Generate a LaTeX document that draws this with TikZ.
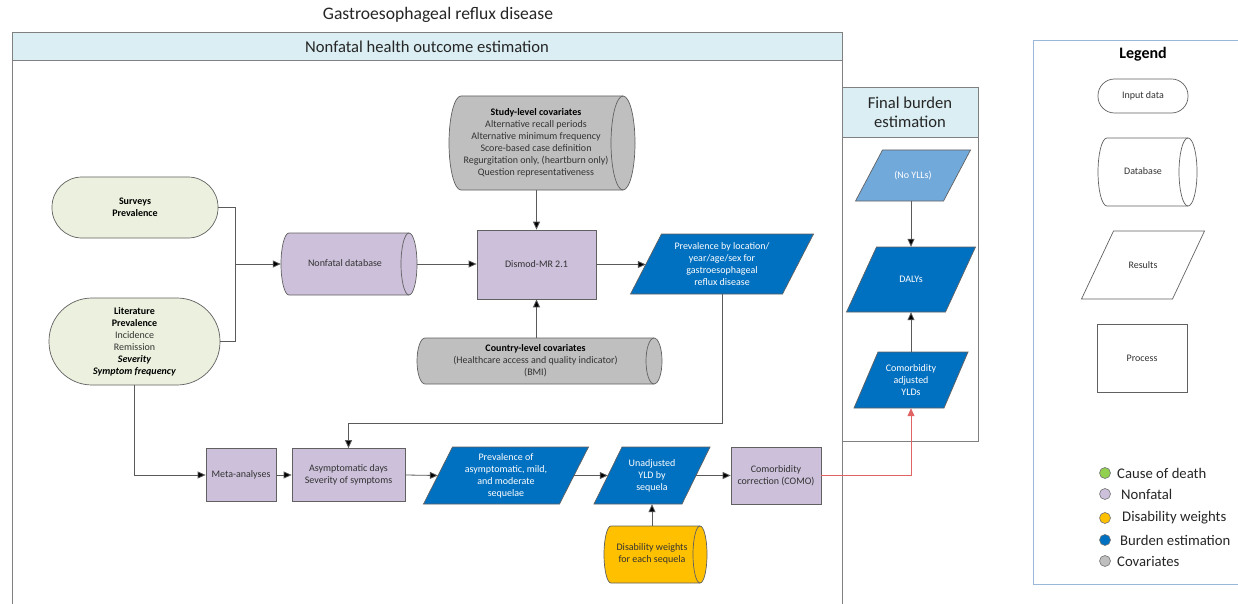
\documentclass[tikz,border=0pt]{standalone}
\usepackage{fontspec}
\setmainfont{Carlito}
\usetikzlibrary{arrows.meta}
\definecolor{hdr}{HTML}{DAEEF3}
\definecolor{inputg}{HTML}{EBF1DE}
\definecolor{nonfat}{HTML}{CCC0DA}
\definecolor{covar}{HTML}{BFBFBF}
\definecolor{burden}{HTML}{0070C0}
\definecolor{burdenlt}{HTML}{72A9DB}
\definecolor{dwy}{HTML}{FFC000}
\definecolor{cod}{HTML}{92D050}
\definecolor{frameg}{HTML}{808080}
\definecolor{legfr}{HTML}{9BB7D9}
\definecolor{redln}{HTML}{E06464}
\definecolor{txtg}{HTML}{333333}
\definecolor{lineg}{HTML}{5A5A5A}
% cylinder: name, x1, y1, x2, y2, rx, fill, text
\newcommand\cylnode[8]{%
  \filldraw[shapeline, fill=#7] ({#2+#6},#3) -- ({#4-#6},#3)
    arc[start angle=-90, end angle=90, x radius=#6, y radius={(#5-#3)/2}]
    -- ({#2+#6},#5)
    arc[start angle=90, end angle=270, x radius=#6, y radius={(#5-#3)/2}] -- cycle;
  \draw[shapeline] ({#4-#6},#3)
    arc[start angle=-90, end angle=-270, x radius=#6, y radius={(#5-#3)/2}];
  \node[cyltxt, minimum width={#4-#2}, minimum height={#5-#3}] (#1)
    at ({(#2+#4)/2},{(#3+#5)/2})
    {\kern-#6pt\begin{tabular}{@{}c@{}}#8\end{tabular}};}
% parallelogram: name, cx, cy, w, h, slant, fill, textcolor, text
\newcommand\paranode[9]{%
  \filldraw[shapeline, fill=#7] ({#2-#4/2+#6/2},{#3-#5/2}) -- ({#2+#4/2+#6/2},{#3-#5/2})
    -- ({#2+#4/2-#6/2},{#3+#5/2}) -- ({#2-#4/2-#6/2},{#3+#5/2}) -- cycle;
  \node[txt, text=#8, minimum width=#4, minimum height=#5] (#1) at (#2,#3) {#9};}
\begin{document}
\begin{tikzpicture}[x=1pt, y=-1pt,
  txt/.style={font=\fontsize{10}{12}\selectfont, align=center, text=txtg, inner sep=0pt},
  cyltxt/.style={font=\fontsize{10}{12}\selectfont, text=txtg, inner sep=0pt},
  shapeline/.style={draw=black!62, line width=0.7pt},
  procbox/.style={txt, shapeline, fill=nonfat},
  inbox/.style={txt, shapeline, fill=inputg},
  frameline/.style={draw=frameg, line width=0.9pt},
  conn/.style={draw=lineg, line width=0.8pt},
  arr/.style={conn, -{Triangle[length=8pt, width=7pt, fill=black]}},
  redarr/.style={draw=redln, line width=0.8pt, -{Triangle[length=8pt, width=7pt, fill=redln]}},
  headtxt/.style={font=\fontsize{16.6}{19}\selectfont, align=center, text=black!85, inner sep=0pt},
  legtxt/.style={font=\fontsize{14.7}{17}\selectfont, text=black!85, inner sep=0pt, anchor=west},
  dot/.style={circle, draw=black!55, line width=0.6pt, minimum size=11pt, inner sep=0pt}
]
\useasboundingbox (0,0) rectangle (1238,604);
\fill[white] (0,0) rectangle (1238,604);

% title
\node[headtxt, font=\fontsize{17.6}{20}\selectfont] (title) at (438,15) {Gastroesophageal reflux disease};

% main frame
\draw[frameline] (12,32) rectangle (842,607);
\filldraw[frameline, fill=hdr] (12,32) rectangle (842,60);
\node[headtxt] (mainhead) at (427,46.5) {Nonfatal health outcome estimation};

% final burden frame
\filldraw[frameline, fill=white] (842,87) rectangle (978,441);
\filldraw[frameline, fill=hdr] (842,87) rectangle (978,137);
\node[headtxt] (finhead) at (910,112) {Final burden\\estimation};

% legend frame
\draw[draw=legfr, line width=0.9pt] (1033,40) rectangle (1245,584);
\node[font=\bfseries\fontsize{16}{19}\selectfont, text=black, inner sep=0pt] (legtitle) at (1143,54) {Legend};

% input data
\node[inbox, minimum width=166pt, minimum height=61pt, rounded corners=30pt,
  font=\bfseries\fontsize{10}{12}\selectfont, text=black] (surveys) at (135,207.5) {Surveys\\Prevalence};
\node[inbox, minimum width=171pt, minimum height=87pt, rounded corners=43pt] (lit) at (134.5,341.5)
  {\textbf{\color{black}Literature}\\\textbf{\color{black}Prevalence}\\Incidence\\Remission\\
   \textbf{\textit{\color{black}Severity}}\\\textbf{\textit{\color{black}Symptom frequency}}};

% databases
\cylnode{nfdb}{281}{233}{417}{295}{8}{nonfat}{Nonfatal database}
\cylnode{study}{449}{96}{635}{190}{12}{covar}{\textbf{\color{black}Study-level covariates}\\Alternative recall periods\\Alternative minimum frequency\\Score-based case definition\\Regurgitation only, (heartburn only)\\Question representativeness}
\cylnode{country}{417}{338}{662}{384}{8}{covar}{\textbf{\color{black}Country-level covariates}\\(Healthcare access and quality indicator)\\(BMI)}
\cylnode{dw}{604}{526}{707}{583}{7}{dwy}{Disability weights\\for each sequela}

% processes
\node[procbox, minimum width=119pt, minimum height=69pt] (dismod) at (536.5,264.5) {Dismod-MR 2.1};
\node[procbox, minimum width=70pt, minimum height=53pt] (meta) at (241,475) {Meta-analyses};
\node[procbox, minimum width=113pt, minimum height=53pt] (asym) at (348.5,475) {Asymptomatic days\\Severity of symptoms};
\node[procbox, minimum width=90pt, minimum height=57pt] (como) at (776,475.5) {Comorbidity\\correction (COMO)};

% results
\paranode{prevloc}{722}{264}{152}{60}{31}{burden}{white}{Prevalence by location/\\year/age/sex for\\gastroesophageal\\reflux disease}
\paranode{prevseq}{506}{475.5}{136}{57}{29}{burden}{white}{Prevalence of\\asymptomatic, mild,\\and moderate\\sequelae}
\paranode{unadj}{652}{475.5}{88}{57}{28}{burden}{white}{Unadjusted\\YLD by\\sequela}
\paranode{noyll}{913}{175.5}{88}{51}{27}{burdenlt}{white}{(No YLLs)}
\paranode{dalys}{911}{279.5}{99}{65}{30}{burden}{white}{DALYs}
\paranode{comadj}{911}{380}{90}{56}{24}{burden}{white}{Comorbidity\\adjusted\\YLDs}

% connectors
\coordinate (join) at (235,264);
\draw[conn] (surveys.east) -| (join);
\draw[conn] (lit.east) -| (join);
\draw[arr] (join) -- (join -| nfdb.west);
\draw[arr] (nfdb.east) -- (nfdb.east -| dismod.west);
\draw[arr] (dismod.north |- study.south) -- (dismod.north);
\draw[arr] (dismod.south |- country.north) -- (dismod.south);
\draw[arr] (dismod.east) -- (dismod.east -| prevloc.west);
\coordinate (turn) at (722,423);
\draw[arr] (prevloc.south) -- (prevloc.south |- turn) -| (asym.north);
\draw[arr] (lit.south) |- (meta.west);
\draw[arr] (meta.east) -- (asym.west);
\draw[arr] (asym.east) -- (prevseq.west);
\draw[arr] (prevseq.east) -- (unadj.west);
\draw[arr] (unadj.east) -- (unadj.east -| como.west);
\draw[arr] (unadj.south |- dw.north) -- (unadj.south);
\draw[redarr] (como.east) -| (comadj.south);
\draw[arr] (dalys.north |- noyll.south) -- (dalys.north);
\draw[arr] (dalys.south |- comadj.north) -- (dalys.south);

% legend shapes
\node[txt, shapeline, fill=white, minimum width=90pt, minimum height=34pt, rounded corners=16.5pt] (leginput) at (1143,96) {Input data};
\cylnode{legdb}{1098}{138}{1197}{206}{9}{white}{Database}
\paranode{legres}{1143}{265}{91}{68}{32}{white}{txtg}{Results}
\node[txt, shapeline, fill=white, minimum width=90pt, minimum height=68pt] (legproc) at (1142,358) {Process};

% legend colours
\node[dot, fill=cod] (d1) at (1105,473) {};
\node[legtxt] (t1) at (1117,473) {Cause of death};
\node[dot, fill=nonfat] (d2) at (1105,494) {};
\node[legtxt] (t2) at (1121,494) {Nonfatal};
\node[dot, fill=dwy] (d3) at (1105,518) {};
\node[legtxt] (t3) at (1122,518) {Disability weights};
\node[dot, fill=burden] (d4) at (1105,540) {};
\node[legtxt] (t4) at (1120,540) {Burden estimation};
\node[dot, fill=covar] (d5) at (1105,561) {};
\node[legtxt] (t5) at (1117,561) {Covariates};
\end{tikzpicture}
\end{document}
